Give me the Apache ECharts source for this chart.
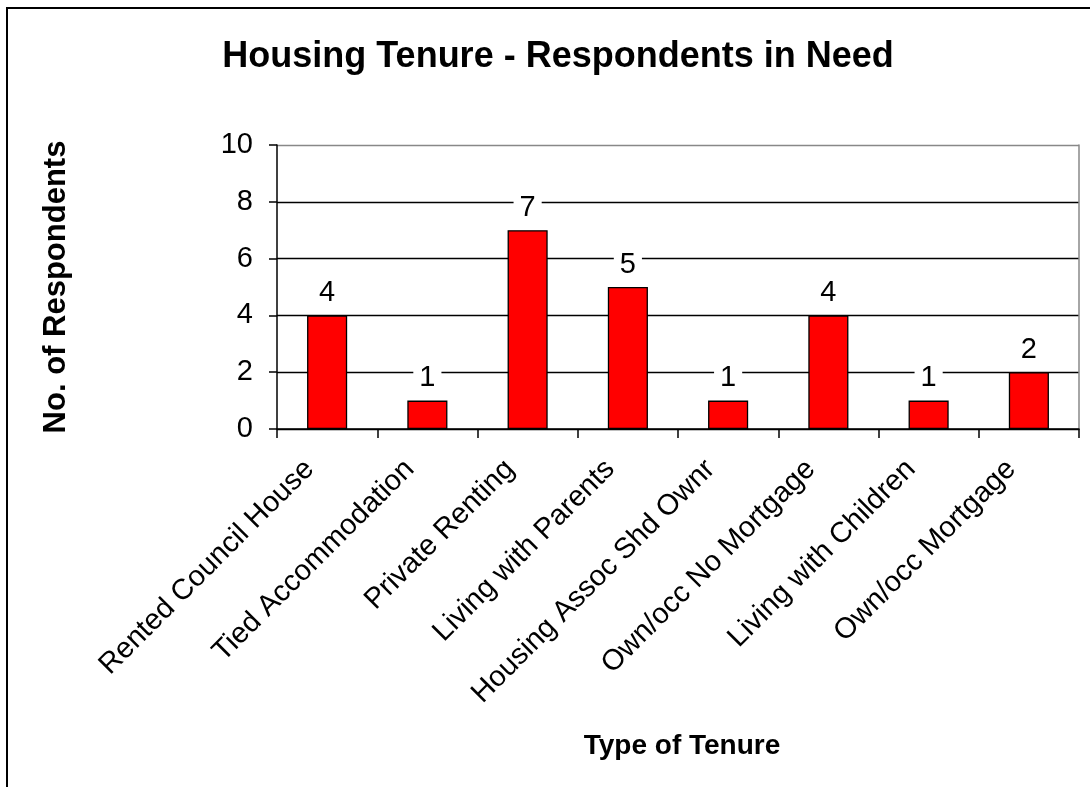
<!DOCTYPE html>
<html>
<head>
<meta charset="utf-8">
<script src="https://cdn.jsdelivr.net/npm/echarts@6/dist/echarts.min.js"></script>
<style>
  html, body { margin: 0; padding: 0; background: #fff; }
  #chart { width: 1090px; height: 787px; }
</style>
</head>
<body>
<div id="chart"></div>
<script>
// data
const tenureTypes = [
  "Rented Council House",
  "Tied Accommodation",
  "Private Renting",
  "Living with Parents",
  "Housing Assoc Shd Ownr",
  "Own/occ No Mortgage",
  "Living with Children",
  "Own/occ Mortgage"
];
const respondents = [4, 1, 7, 5, 1, 4, 1, 2];

const font = "Arial, 'Liberation Sans', sans-serif";

let myChart = echarts.init(document.getElementById("chart"));
myChart.setOption({
  animation: false,
  backgroundColor: "#fff",
  title: {
    text: "Housing Tenure - Respondents in Need",
    left: 553,
    textAlign: "center",
    top: 34,
    textStyle: { fontFamily: font, fontSize: 36, fontWeight: "bold", color: "#000" }
  },
  grid: { left: 277, right: 11, top: 145, bottom: 358 },
  graphic: [
    {
      type: "rect",
      shape: { x: 7, y: 8, width: 1200, height: 900 },
      style: { fill: "none", stroke: "#000", lineWidth: 2 }
    },
    {
      type: "text",
      x: 682,
      y: 746,
      style: {
        text: "Type of Tenure",
        font: "bold 28px " + font,
        fill: "#000",
        textAlign: "center",
        textVerticalAlign: "middle"
      }
    }
  ],
  xAxis: {
    type: "category",
    data: tenureTypes,
    axisLine: { lineStyle: { color: "#000", width: 1.5 } },
    axisTick: { show: true, length: 9, lineStyle: { color: "#000", width: 1.5 } },
    axisLabel: {
      rotate: 45,
      interval: 0,
      margin: 18,
      padding: [0, 25, 0, 0],
      fontFamily: font,
      fontSize: 29,
      color: "#000"
    }
  },
  yAxis: [
    {
      type: "value",
      min: 0,
      max: 10,
      interval: 2,
      name: "No. of Respondents",
      nameLocation: "middle",
      nameGap: 205,
      nameTextStyle: { fontFamily: font, fontSize: 31, fontWeight: "bold", color: "#000" },
      axisLine: { show: true, lineStyle: { color: "#000", width: 1.5 } },
      axisTick: { show: true, length: 8, lineStyle: { color: "#000", width: 1.5 } },
      axisLabel: { fontFamily: font, fontSize: 29, color: "#000", margin: 24 },
      splitLine: {
        lineStyle: { color: ["#000", "#000", "#000", "#000", "#000", "#888"], width: 1.3 }
      }
    },
    {
      type: "value",
      min: 0,
      max: 10,
      interval: 2,
      position: "right",
      axisLine: { show: true, lineStyle: { color: "#888", width: 1.5 } },
      axisTick: { show: false },
      axisLabel: { show: false },
      splitLine: { show: false }
    }
  ],
  series: [
    {
      type: "bar",
      data: respondents,
      barWidth: "40%",
      itemStyle: { color: "#ff0000", borderColor: "#000", borderWidth: 1.3 },
      label: {
        show: true,
        position: "top",
        distance: 8,
        fontFamily: font,
        fontSize: 29,
        color: "#000",
        backgroundColor: "#fff",
        padding: [0, 6]
      }
    }
  ]
});
</script>
</body>
</html>
